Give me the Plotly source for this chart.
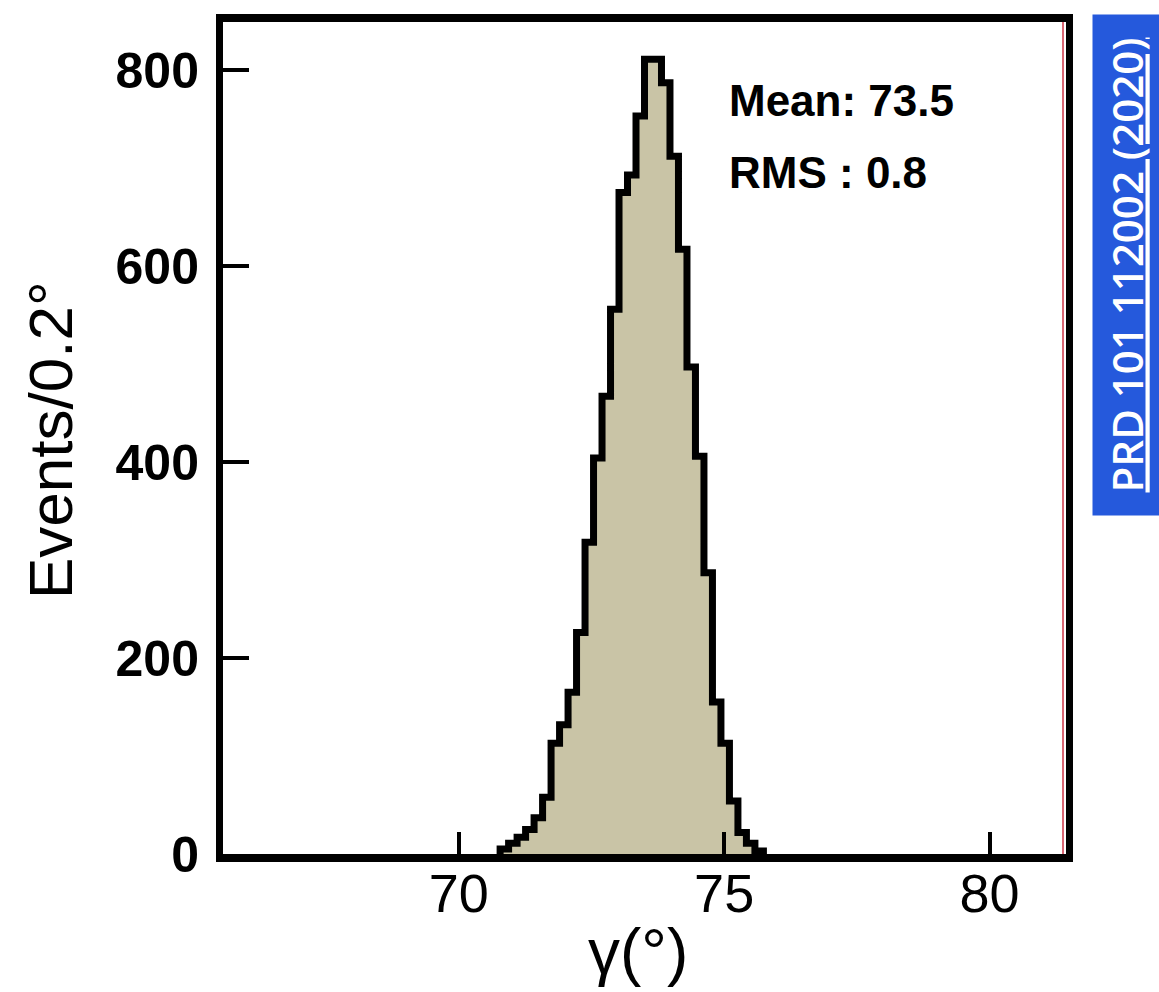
import numpy as np
import plotly.graph_objects as go

# Histogram of gamma (degrees): first bin low edge, bin width and counts per bin
bin_low = 70.78
bin_width = 0.16
counts = [5, 11, 17, 25, 37, 58, 113, 132, 165, 226, 318, 404, 467, 556, 675,
          693, 753, 811, 811, 787, 712, 617, 497, 406, 287, 155, 113, 54, 22, 11, 3]

x_ticks = [70, 75, 80]
y_ticks = [0, 200, 400, 600, 800]
stats_lines = ["Mean: 73.5", "RMS : 0.8"]
x_title = "γ(°)"
y_title = "Events/0.2°"
reference = "PRD 101 112002 (2020)"

edges = bin_low + bin_width * np.arange(len(counts) + 1)
xs = np.concatenate([[edges[0]], edges])
ys = np.concatenate([[0], counts, [0]])

fig = go.Figure()
fig.add_trace(go.Scatter(
    x=xs, y=ys, mode="lines", line_shape="hv",
    line=dict(color="black", width=7),
    fill="tozeroy", fillcolor="#c9c4a6",
    hoverinfo="skip", showlegend=False,
))

L, R, T, B = 223, 93, 22, 138
W, H = 1159, 992
pw, ph = W - L - R, H - T - B


def px(xp):
    return (xp - L) / pw


def py(yp):
    return (H - B - yp) / ph


axis_font = dict(family="Liberation Sans, Arial, sans-serif", color="black")

fig.update_layout(
    width=W, height=H,
    margin=dict(l=L, r=R, t=T, b=B, pad=0),
    paper_bgcolor="white", plot_bgcolor="white",
    xaxis=dict(
        range=[65.56, 81.44], tickvals=x_ticks, ticktext=[str(v) for v in x_ticks],
        ticks="inside", ticklen=22, tickwidth=4, tickcolor="black",
        showline=True, linewidth=8, linecolor="black", mirror=True,
        showgrid=False, zeroline=False,
        tickfont=dict(size=54, **axis_font), ticklabelstandoff=-15,
    ),
    yaxis=dict(
        range=[0, 849], tickvals=y_ticks, ticktext=[str(v) for v in y_ticks],
        ticks="inside", ticklen=26, tickwidth=4, tickcolor="black",
        showline=True, linewidth=7, linecolor="black", mirror=True,
        showgrid=False, zeroline=False,
        tickfont=dict(size=50, weight="bold", **axis_font), ticklabelstandoff=7,
    ),
    shapes=[dict(type="line", xref="paper", yref="paper",
                 x0=px(1063), x1=px(1063), y0=0, y1=1,
                 line=dict(color="#cc3344", width=1.5))],
)

# statistics box text
for line, yc in zip(stats_lines, [100, 172]):
    fig.add_annotation(text=line, xref="paper", yref="paper", x=px(727), y=py(yc),
                       xanchor="left", yanchor="middle", showarrow=False,
                       font=dict(size=44, weight="bold", **axis_font))

# axis titles
fig.add_annotation(text=x_title, xref="paper", yref="paper", x=px(638), y=py(952),
                   xanchor="center", yanchor="middle", showarrow=False,
                   font=dict(size=64, **axis_font))
fig.add_annotation(text=y_title, xref="paper", yref="paper", x=px(50), y=py(440),
                   xanchor="center", yanchor="middle", textangle=-90, showarrow=False,
                   font=dict(size=62, **axis_font))

# publication tag on the right edge
fig.add_annotation(text="<u>" + reference + "</u>", xref="paper", yref="paper",
                   x=px(1126), y=py(265), xanchor="center", yanchor="middle",
                   textangle=-90, showarrow=False, width=498, height=64,
                   bgcolor="#2559dc", borderpad=1,
                   font=dict(size=42, family="Open Sans, sans-serif", color="white", weight=600))

fig.write_html("out.html")
